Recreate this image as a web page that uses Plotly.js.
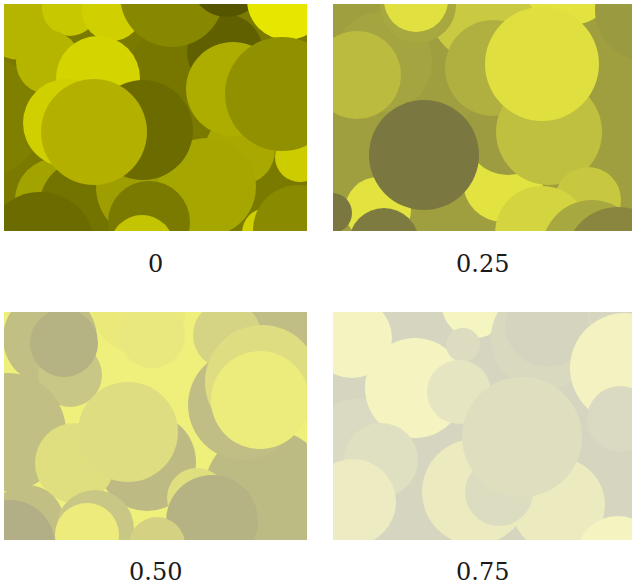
<!DOCTYPE html>
<html>
<head>
<meta charset="utf-8">
<script src="https://cdn.plot.ly/plotly-3.0.1.min.js"></script>
<style>html,body{margin:0;padding:0;background:#fff;}#chart{width:632px;height:588px;}</style>
</head>
<body>
<div id="chart"></div>
<script>
// Panel labels (desaturation amount)
const labels = ["0", "0.25", "0.50", "0.75"];
const backgrounds = ["#7a7a00", "#9f9f40", "#efef7c", "#d5d5c0"];

// Panel "0"
const p0_x = [-21, 16, 163, 221, 66, 108, 168, 223, 283, 44, 94, 53, 83, 145, 236, 296, 229, 278, 203, 139, 63, 90, 263, 294, 36, 145, 138];
const p0_y = [113, 16, 63, 48, 4, 7, -9, -24, -4, 58, 74, 196, 203, 183, 146, 153, 85, 90, 183, 126, 119, 128, 229, 226, 243, 218, 243];
const p0_r = [60, 40, 37, 38, 28, 30, 52, 37, 40, 32, 42, 42, 48, 53, 35, 25, 47, 57, 49, 50, 44, 53, 25, 45, 55, 41, 32];
const p0_c = ["#7f7f00", "#b5b500", "#777700", "#606000", "#c8c800", "#d0d000", "#888800", "#555500", "#e6e600", "#b5b500", "#d4d400", "#a3a300", "#737300", "#9e9e00", "#a8a800", "#cccc00", "#adad00", "#909000", "#a6a600", "#6b6b00", "#d0d000", "#b3b000", "#d0d000", "#8a8a00", "#6b6b00", "#7a7a00", "#c4c400"];

// Panel "0.25"
const p1_x = [49, 24, 159, 85, 83, 237, 312, 170, 175, 160, 249, 216, 209, 255, 45, -1, 91, 209, 259, 285, 51];
const p1_y = [58, 71, -4, 1, -4, -29, 6, 178, 128, 64, 143, 128, 60, 196, 206, 209, 151, 229, 246, 256, 239];
const p1_r = [50, 44, 66, 38, 32, 50, 50, 40, 43, 48, 40, 53, 57, 33, 33, 20, 55, 47, 50, 53, 35];
const p1_c = ["#a4a440", "#bbbb40", "#c9c942", "#a8a840", "#e0e040", "#e3e340", "#9a9a40", "#e2e240", "#9d9c40", "#b0b040", "#a09f40", "#bfbf40", "#e0df40", "#c8c840", "#e3e340", "#7a7840", "#7a7840", "#d4d440", "#a8a840", "#8a8640", "#7d7b40"];

// Panel "0.50"
const p2_x = [46, 135, 148, 66, 60, 286, 223, 263, 239, 258, 256, 3, 143, 71, 124, 193, 208, 23, 6, 91, 83, 153];
const p2_y = [26, -5, 23, 63, 31, 10, 23, 180, 93, 70, 88, 120, 150, 151, 120, 186, 209, 210, 233, 217, 223, 233];
const p2_r = [47, 47, 33, 32, 34, 47, 34, 63, 55, 57, 49, 59, 49, 40, 50, 30, 46, 37, 45, 39, 32, 28];
const p2_c = ["#c2bf84", "#eae97a", "#e9e87e", "#c9c785", "#b5b283", "#c0bd85", "#d5d384", "#bdbb84", "#c0be85", "#dedd82", "#ecec7c", "#c2bf84", "#bdba83", "#e0df7f", "#dedd82", "#e0df7f", "#b5b283", "#c2bf84", "#b2ae85", "#c9c785", "#eceb7c", "#d4d282"];

// Panel "0.75"
const p3_x = [25, 22, 19, 82, 142, 130, 126, 210, 214, 292, 287, 48, 20, 142, 225, 166, 189, 285];
const p3_y = [126, -14, 26, 76, -7, 33, 80, 26, 13, 56, 107, 148, 190, 180, 193, 180, 125, 246];
const p3_r = [40, 38, 40, 50, 33, 17, 32, 52, 42, 55, 33, 37, 43, 53, 47, 34, 60, 42];
const p3_c = ["#dadac2", "#d5d5c0", "#f5f4c0", "#f5f4c0", "#f5f5c2", "#dddcc1", "#e5e5c2", "#d9d9c0", "#d5d5bf", "#f3f2c0", "#dadac2", "#dfdfc1", "#ecebc2", "#ecebc0", "#ecebc0", "#dcdcc1", "#dfdfc0", "#f5f4c0"];

const panels = [
  {x: p0_x, y: p0_y, r: p0_r, c: p0_c},
  {x: p1_x, y: p1_y, r: p1_r, c: p1_c},
  {x: p2_x, y: p2_y, r: p2_r, c: p2_c},
  {x: p3_x, y: p3_y, r: p3_r, c: p3_c}
];

// layout geometry (pixels in the 632x588 page)
const W = 632, H = 588;
const boxes = [
  {x0: 4, x1: 307, y0: 4, y1: 231},
  {x0: 333, x1: 632, y0: 4, y1: 231},
  {x0: 4, x1: 307, y0: 312, y1: 540},
  {x0: 333, x1: 632, y0: 312, y1: 540}
];
const labelY = [264, 264, 572, 572];

const data = [];
const layout = {
  width: W, height: H,
  margin: {l: 0, r: 0, t: 0, b: 0},
  paper_bgcolor: "#ffffff",
  plot_bgcolor: "rgba(0,0,0,0)",
  showlegend: false,
  shapes: [],
  annotations: []
};

panels.forEach((p, i) => {
  const b = boxes[i];
  const suf = i === 0 ? "" : String(i + 1);
  data.push({
    type: "scatter", mode: "markers",
    x: p.x, y: p.y,
    xaxis: "x" + suf, yaxis: "y" + suf,
    cliponaxis: true,
    hoverinfo: "skip",
    marker: {size: p.r.map(v => 2 * v), color: p.c, opacity: 1, line: {width: 0}}
  });
  const ax = {
    domain: [b.x0 / W, b.x1 / W], range: [0, b.x1 - b.x0],
    showgrid: false, zeroline: false, showticklabels: false, showline: false, ticks: "", fixedrange: true
  };
  const ay = {
    domain: [1 - b.y1 / H, 1 - b.y0 / H], range: [b.y1 - b.y0, 0],
    showgrid: false, zeroline: false, showticklabels: false, showline: false, ticks: "", fixedrange: true
  };
  ax.anchor = "y" + suf; ay.anchor = "x" + suf;
  layout["xaxis" + suf] = ax;
  layout["yaxis" + suf] = ay;
  layout.shapes.push({
    type: "rect", xref: "x" + suf + " domain", yref: "y" + suf + " domain",
    x0: 0, x1: 1, y0: 0, y1: 1, layer: "below",
    fillcolor: backgrounds[i], line: {width: 0}
  });
  layout.annotations.push({
    text: labels[i], showarrow: false,
    xref: "paper", yref: "paper",
    x: (b.x0 + b.x1) / 2 / W, y: 1 - labelY[i] / H,
    xanchor: "center", yanchor: "middle",
    font: {family: "DejaVu Serif", size: 24, color: "#1a1a1a"}
  });
});

Plotly.newPlot("chart", data, layout, {staticPlot: true, displayModeBar: false});
</script>
</body>
</html>
